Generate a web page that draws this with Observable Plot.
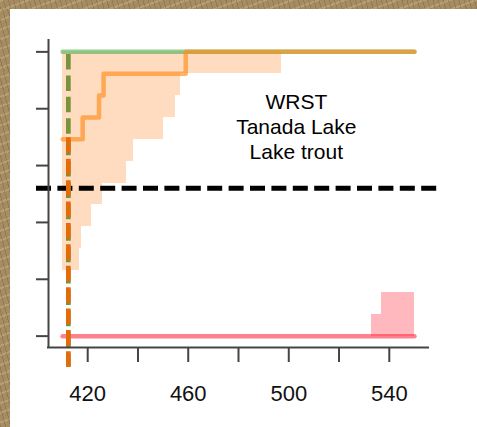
<!DOCTYPE html>
<html>
<head>
<meta charset="utf-8">
<script src="https://cdn.jsdelivr.net/npm/d3@7"></script>
<script src="https://cdn.jsdelivr.net/npm/@observablehq/plot@0.6"></script>
<style>
  html, body { margin: 0; padding: 0; background: #fff; }
  #wrap { position: relative; width: 477px; height: 427px; overflow: hidden; background: #fff; }
  .paper {
    position: absolute;
    background-color: #a58c62;
    background-image:
      repeating-linear-gradient(75deg, rgba(70, 50, 20, 0.20) 0 1px, transparent 1px 5px),
      repeating-linear-gradient(160deg, rgba(235, 215, 165, 0.25) 0 2px, transparent 2px 9px);
  }
  #paper-left { left: 0; top: 0; width: 10px; height: 100%; }
  #paper-top { left: 0; top: 0; width: 100%; height: 9px; }
  #chart { position: absolute; left: 0; top: 0; }
</style>
</head>
<body>
<div id="wrap">
  <div class="paper" id="paper-left"></div>
  <div class="paper" id="paper-top"></div>
  <div id="chart"></div>
</div>
<script>
// Axis ticks
const xTicks = [420, 440, 460, 480, 500, 520, 540];
const xLabels = [420, 460, 500, 540];
const yTicks = [0, 0.2, 0.4, 0.6, 0.8, 1];

// Cumulative proportion mature by length (step line)
const stepLength = [410, 418, 424.5, 426.3, 459, 550];
const stepProp = [9/13, 10/13, 11/13, 12/13, 1, 1];

// Uncertainty band rows: lower/upper proportion and right length edge
const bandStart = 410;
const bandLow = [3/13, 4/13, 5/13, 6/13, 7/13, 8/13, 9/13, 10/13, 11/13, 12/13];
const bandHigh = [4/13, 5/13, 6/13, 7/13, 8/13, 9/13, 10/13, 11/13, 12/13, 1];
const bandRight = [416.7, 417.6, 421.4, 425.8, 435.5, 438.2, 450.0, 455.1, 456.8, 497.0];

// Immature band rows near zero
const pinkLow = [0, 1/13];
const pinkHigh = [1/13, 2/13];
const pinkLeft = [532.8, 536.7];
const pinkRight = 550;

// Reference lines at full and zero proportion
const lineRange = [410, 550];
const fullProp = 1;
const zeroProp = 0;

// Length at maturity markers and threshold
const medianLength = 412.3;
const medians = [
  {x: medianLength, top: 1, color: "#77933c", offset: 18.7},
  {x: medianLength, top: 9/13, color: "#e36c09", offset: 0}
];
const threshold = [0.52];

const annotation = ["WRST", "Tanada Lake", "Lake trout"];

const xDomain = [404.4, 555.6];
const yDomain = [-0.04, 1.04];

const band = bandLow.map((lo, i) => ({x1: bandStart, x2: bandRight[i], y1: lo, y2: bandHigh[i]}));
const pink = pinkLow.map((lo, i) => ({x1: pinkLeft[i], x2: pinkRight, y1: lo, y2: pinkHigh[i]}));
const steps = stepLength.map((x, i) => ({x, y: stepProp[i]}));
const greenLine = lineRange.map(x => ({x, y: fullProp}));
const redLine = lineRange.map(x => ({x, y: zeroProp}));

const dash = "15.5,5.9";
const axisColor = "#444";

const chart = Plot.plot({
  width: 477,
  height: 427,
  marginLeft: 48,
  marginRight: 49,
  marginTop: 40,
  marginBottom: 80,
  x: {domain: xDomain},
  y: {domain: yDomain},
  style: {
    background: "transparent",
    overflow: "visible",
    color: "#111",
    fontFamily: "'Liberation Sans', Arial, Helvetica, sans-serif"
  },
  marks: [
    Plot.rect(band, {x1: "x1", x2: "x2", y1: "y1", y2: "y2", fill: "#ffdcc0", shapeRendering: "crispEdges"}),
    Plot.rect(pink, {x1: "x1", x2: "x2", y1: "y1", y2: "y2", fill: "#ffb8be", shapeRendering: "crispEdges"}),
    Plot.line(greenLine, {x: "x", y: "y", stroke: "#4caf50", strokeOpacity: 0.6, strokeWidth: 4.5, strokeLinecap: "round"}),
    Plot.line(redLine, {x: "x", y: "y", stroke: "#ff2d45", strokeOpacity: 0.6, strokeWidth: 4.5, strokeLinecap: "round"}),
    Plot.line(steps, {x: "x", y: "y", curve: "step-after", stroke: "#ff8c1a", strokeOpacity: 0.65, strokeWidth: 4.5, strokeLinecap: "round", strokeLinejoin: "round"}),
    Plot.ruleY(threshold, {stroke: "#000", strokeWidth: 5, strokeDasharray: "15,6.4", insetLeft: -12, insetRight: -9}),
    ...medians.map(m => Plot.ruleX([m], {
      x: "x", y1: "top", y2: zeroProp, stroke: m.color, strokeWidth: 4.7,
      strokeDasharray: dash, strokeDashoffset: m.offset, insetBottom: -31, insetTop: m.offset ? 0 : -1.5
    })),
    // Axis lines (L-shaped box)
    Plot.ruleX([xDomain[0]], {y1: yDomain[0], y2: yDomain[1], stroke: axisColor, strokeWidth: 2, strokeLinecap: "square"}),
    Plot.ruleY([yDomain[0]], {x1: xDomain[0], x2: xDomain[1], stroke: axisColor, strokeWidth: 2, strokeLinecap: "square"}),
    Plot.axisX({
      ticks: xTicks, tickSize: 15, tickPadding: 23, fontSize: 22, label: null,
      tickFormat: d => xLabels.includes(d) ? String(d) : "",
      stroke: axisColor, strokeWidth: 2
    }),
    Plot.axisY({
      ticks: yTicks, tickSize: 12, label: null, tickFormat: () => "",
      stroke: axisColor, strokeWidth: 2
    }),
    Plot.text([annotation.join("\n")], {
      x: 503, y: 0.74, text: d => d, fontSize: 21, lineHeight: 1.21,
      textAnchor: "middle", lineAnchor: "middle", fill: "#000"
    })
  ]
});

document.getElementById("chart").appendChild(chart);
</script>
</body>
</html>
